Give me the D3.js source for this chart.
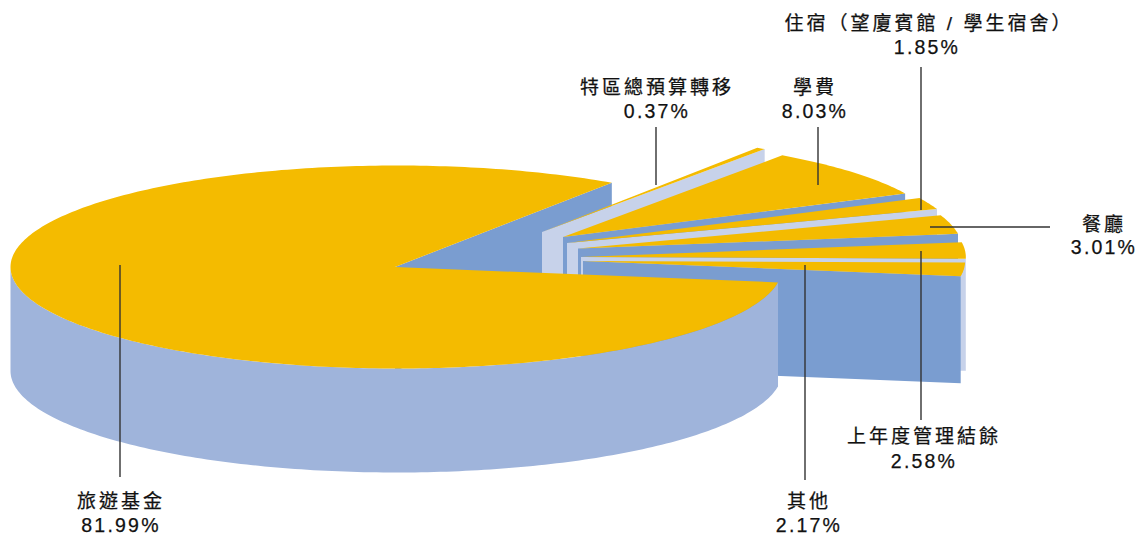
<!DOCTYPE html>
<html>
<head>
<meta charset="utf-8">
<script src="https://cdn.jsdelivr.net/npm/d3@7"></script>
<style>
body { margin: 0; background: #fff; }
text { font-family: "Liberation Sans", "Noto Sans CJK TC", sans-serif; fill: #111; stroke: #111; stroke-width: 0.25px; }
.name { font-size: 19px; letter-spacing: 3px; }
.pct { font-size: 19.5px; letter-spacing: 2.2px; }
</style>
</head>
<body>
<script>
let categories = ["特區總預算轉移", "學費", "住宿（望廈賓館 / 學生宿舍）", "餐廳", "上年度管理結餘", "其他", "旅遊基金"]
let values = [0.37, 8.03, 1.85, 3.01, 2.58, 2.17, 81.99]
let labels = ["0.37%", "8.03%", "1.85%", "3.01%", "2.58%", "2.17%", "81.99%"]

// layout, one entry per slice
let center = [[542, 232], [563, 237], [567, 243], [578, 248.5], [581, 257], [583, 261], [396.5, 267]]
let apex = [[542, 232], [563, 237], [567, 243], [578, 248.5], [581, 257], [583, 261], [395, 267]]
let radiusScale = [1, 0.985, 1.015, 0.995, 0.997, 0.99, 1]
let depths = [105, 105, 105, 105, 112, 107, 104]
let wallColors = ["#c7d2ea", "#7a9dd0", "#c7d2ea", "#7a9dd0", "#c7d2ea", "#7a9dd0", "#7a9dd0"]
let lines = [[656, 127, 656, 185], [818, 127, 818, 185], [921, 67, 921, 210], [930, 227, 1050, 227], [921, 251, 921, 420], [805, 265, 805, 480], [120, 265, 120, 477]]
let labelPos = [[657, 657, 94, 118], [815, 815, 94, 118], [929, 927, 30, 54], [1104, 1104, 231, 254], [924, 924, 443, 468], [809, 809, 508, 532], [121, 121, 508, 532]]

let yellow = "#f4bb00"
let outerColor = "#9fb4db"
let rx = 386
let ry = 101.5

let svg = d3.select("body")
    .append("svg")
    .attr("width", 1138)
    .attr("height", 535)

let startAngle = 33.9 * Math.PI / 180
let pie = d3.pie().sort(null).startAngle(startAngle).endAngle(startAngle + 2 * Math.PI)
let arcs = pie(values)

let x = d3.scaleLinear().domain([-1, 1]).range([-rx, rx])
let y = d3.scaleLinear().domain([-1, 1]).range([ry, -ry])

function point(i, a, dy) {
    let r = radiusScale[i]
    return [center[i][0] + x(r * Math.sin(a)), center[i][1] + y(r * Math.cos(a)) + (dy || 0)]
}

function arcPoints(i, a0, a1, dy) {
    let n = Math.ceil((a1 - a0) * 60) + 2
    return d3.range(n).map(k => point(i, a0 + (a1 - a0) * k / (n - 1), dy))
}

let line = d3.line()

function drawTop(i) {
    let d = arcs[i]
    let pts = [apex[i]].concat(arcPoints(i, d.startAngle, d.endAngle))
    svg.append("path").attr("d", line(pts) + "Z").attr("fill", yellow)
}

// the cut face on the clockwise end of a slice
function drawCut(i, a) {
    let tip = point(i, a)
    let pts = [apex[i], tip, [tip[0], tip[1] + depths[i]], [apex[i][0], apex[i][1] + depths[i]]]
    svg.append("path").attr("d", line(pts) + "Z").attr("fill", wallColors[i])
}

// main slice cut face goes first, it sits behind the others
let main = arcs.length - 1
drawCut(main, arcs[main].endAngle)

d3.range(main).forEach(i => {
    drawCut(i, arcs[i].endAngle)
    drawTop(i)
})

// main slice outer wall, only the part that faces the viewer
let wallEnd = 1.5 * Math.PI
let front = arcPoints(main, arcs[main].startAngle, wallEnd)
let back = arcPoints(main, arcs[main].startAngle, wallEnd, depths[main]).reverse()
svg.append("path").attr("d", line(front.concat(back)) + "Z").attr("fill", outerColor)
drawTop(main)

svg.selectAll("line.leader")
    .data(lines)
    .enter()
    .append("line")
    .attr("class", "leader")
    .attr("x1", d => d[0])
    .attr("y1", d => d[1])
    .attr("x2", d => d[2])
    .attr("y2", d => d[3])
    .attr("stroke", "#333")
    .attr("stroke-width", 1.4)

categories.forEach((c, i) => {
    svg.append("text").attr("class", "name").attr("x", labelPos[i][0]).attr("y", labelPos[i][2]).attr("text-anchor", "middle").text(c)
    svg.append("text").attr("class", "pct").attr("x", labelPos[i][1]).attr("y", labelPos[i][3]).attr("text-anchor", "middle").text(labels[i])
})
</script>
</body>
</html>
